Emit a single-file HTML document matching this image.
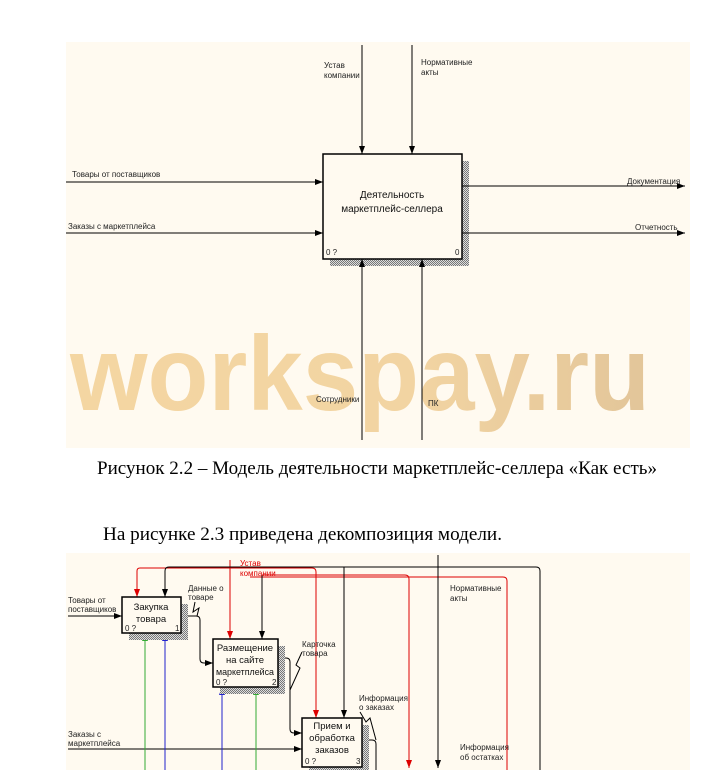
<!DOCTYPE html>
<html><head><meta charset="utf-8"><style>
html,body{margin:0;padding:0;background:#fff;width:714px;height:770px;overflow:hidden}
svg{display:block}
.s{font-family:"Liberation Sans",sans-serif;font-size:8px;fill:#222}
.b{font-family:"Liberation Sans",sans-serif;font-size:10px;fill:#111}
.c{font-family:"Liberation Sans",sans-serif;font-size:9.5px;fill:#111}
.t{font-family:"Liberation Serif",serif;font-size:19px;fill:#000}
</style></head><body>
<svg width="714" height="770" viewBox="0 0 714 770" xmlns="http://www.w3.org/2000/svg">
<defs>
<pattern id="h" width="2" height="2" patternUnits="userSpaceOnUse"><rect width="2" height="2" fill="#ddd"/><rect width="1" height="1" fill="#777"/><rect x="1" y="1" width="1" height="1" fill="#777"/></pattern>
<marker id="a" markerWidth="8" markerHeight="6" refX="8" refY="3" orient="auto" markerUnits="userSpaceOnUse"><path d="M0,0L8,3L0,6z" fill="#000"/></marker>
<marker id="ar" markerWidth="8" markerHeight="6" refX="8" refY="3" orient="auto" markerUnits="userSpaceOnUse"><path d="M0,0L8,3L0,6z" fill="#d00"/></marker>
<marker id="ag" markerWidth="8" markerHeight="6" refX="8" refY="3" orient="auto" markerUnits="userSpaceOnUse"><path d="M0,0L8,3L0,6z" fill="#3a3"/></marker>
<marker id="ab" markerWidth="8" markerHeight="6" refX="8" refY="3" orient="auto" markerUnits="userSpaceOnUse"><path d="M0,0L8,3L0,6z" fill="#22c"/></marker>
<linearGradient id="wm" x1="0" y1="0" x2="1" y2="0"><stop offset="0" stop-color="#f3d39a"/><stop offset="0.6" stop-color="#f1d09a"/><stop offset="1" stop-color="#e0c090"/></linearGradient>
</defs>
<rect x="66" y="42" width="624" height="406" fill="#fffaf0"/>
<text x="70" y="410" font-family="Liberation Sans,sans-serif" font-weight="bold" font-size="106" fill="url(#wm)" opacity="0.9" textLength="580" lengthAdjust="spacingAndGlyphs">workspay.ru</text>
<rect x="330" y="161" width="139" height="105" fill="url(#h)"/>
<rect x="323" y="154" width="139" height="105" fill="#fffaf0" stroke="#000" stroke-width="1.5"/>
<text class="b" x="392" y="198" text-anchor="middle">Деятельность</text>
<text class="b" x="392" y="212" text-anchor="middle">маркетплейс-селлера</text>
<text class="s" x="326" y="255">0 ?</text><text class="s" x="455" y="255">0</text>
<g stroke="#000" stroke-width="1" fill="none">
<line x1="362" y1="45" x2="362" y2="154" marker-end="url(#a)"/>
<line x1="412" y1="45" x2="412" y2="154" marker-end="url(#a)"/>
<line x1="66" y1="182" x2="323" y2="182" marker-end="url(#a)"/>
<line x1="66" y1="233" x2="323" y2="233" marker-end="url(#a)"/>
<line x1="462" y1="186" x2="685" y2="186" marker-end="url(#a)"/>
<line x1="462" y1="233" x2="685" y2="233" marker-end="url(#a)"/>
<line x1="362" y1="440" x2="362" y2="259" marker-end="url(#a)"/>
<line x1="422" y1="440" x2="422" y2="259" marker-end="url(#a)"/>
</g>
<text class="s" x="324" y="68">Устав</text><text class="s" x="324" y="78">компании</text>
<text class="s" x="421" y="65">Нормативные</text><text class="s" x="421" y="75">акты</text>
<text class="s" x="72" y="177">Товары от поставщиков</text>
<text class="s" x="68" y="229">Заказы с маркетплейса</text>
<text class="s" x="627" y="184">Документация</text>
<text class="s" x="635" y="230">Отчетность</text>
<text class="s" x="316" y="402">Сотрудники</text>
<text class="s" x="428" y="406">ПК</text>
<text class="t" x="97" y="474" textLength="560" lengthAdjust="spacingAndGlyphs">Рисунок 2.2 – Модель деятельности маркетплейс-селлера «Как есть»</text>
<text class="t" x="103" y="540" textLength="399" lengthAdjust="spacingAndGlyphs">На рисунке 2.3 приведена декомпозиция модели.</text>
<rect x="66" y="553" width="624" height="217" fill="#fffaf0"/>
<g fill="none" stroke-width="1">
<path d="M137,597V571q0,-3 3,-3H312q4,0 4,4V718" stroke="#d00"/>
<line x1="137" y1="590" x2="137" y2="597" stroke="#d00" marker-end="url(#ar)"/>
<line x1="316" y1="710" x2="316" y2="718" stroke="#d00" marker-end="url(#ar)"/>
<path d="M250,577H503q4,0 4,4V770" stroke="#d00"/>
<path d="M230,560V639" stroke="#d00" marker-end="url(#ar)"/>
<path d="M262,575H405q4,0 4,4V768" stroke="#d00" marker-end="url(#ar)"/>
<path d="M165,597V571q0,-4 4,-4H536q4,0 4,4V770" stroke="#000"/>
<line x1="165" y1="590" x2="165" y2="597" stroke="#000" marker-end="url(#a)"/>
<path d="M262,575V639" stroke="#000" marker-end="url(#a)"/>
<path d="M344,567V718" stroke="#000" marker-end="url(#a)"/>
<path d="M438,555V768" stroke="#000" marker-end="url(#a)"/>
<path d="M68,616H122" stroke="#000" marker-end="url(#a)"/>
<path d="M181,616H196q4,0 4,4V659q0,4 4,4H213" stroke="#000" marker-end="url(#a)"/>
<path d="M278,658H286q4,0 4,4V729q0,4 4,4H302" stroke="#000" marker-end="url(#a)"/>
<path d="M68,749H302" stroke="#000" marker-end="url(#a)"/>
<path d="M362,740H372q4,0 4,4V770" stroke="#000"/>
<path d="M145,770V633" stroke="#3a3" marker-end="url(#ag)"/>
<path d="M256,770V687" stroke="#3a3" marker-end="url(#ag)"/>
<path d="M165,770V633" stroke="#22c" marker-end="url(#ab)"/>
<path d="M222,770V687" stroke="#22c" marker-end="url(#ab)"/>
<path d="M195,602L193,612L199,608L197,616" stroke="#000"/>
<path d="M302,652L296,665L300,668L290,690" stroke="#000"/>
<path d="M360,712L366,722L370,718L376,740" stroke="#000"/>
</g>
<rect x="129" y="604" width="59" height="36" fill="url(#h)"/>
<rect x="122" y="597" width="59" height="36" fill="#fffaf0" stroke="#000" stroke-width="1.5"/>
<text class="c" x="151" y="610" text-anchor="middle">Закупка</text><text class="c" x="151" y="622" text-anchor="middle">товара</text>
<text class="s" x="125" y="631">0 ?</text><text class="s" x="175" y="631">1</text>
<rect x="220" y="646" width="65" height="48" fill="url(#h)"/>
<rect x="213" y="639" width="65" height="48" fill="#fffaf0" stroke="#000" stroke-width="1.5"/>
<text class="c" x="245" y="651" text-anchor="middle">Размещение</text><text class="c" x="245" y="663" text-anchor="middle">на сайте</text><text class="c" x="245" y="675" text-anchor="middle" textLength="58" lengthAdjust="spacingAndGlyphs">маркетплейса</text>
<text class="s" x="216" y="685">0 ?</text><text class="s" x="272" y="685">2</text>
<rect x="309" y="725" width="60" height="49" fill="url(#h)"/>
<rect x="302" y="718" width="60" height="49" fill="#fffaf0" stroke="#000" stroke-width="1.5"/>
<text class="c" x="332" y="729" text-anchor="middle">Прием и</text><text class="c" x="332" y="741" text-anchor="middle">обработка</text><text class="c" x="332" y="753" text-anchor="middle">заказов</text>
<text class="s" x="305" y="764">0 ?</text><text class="s" x="356" y="764">3</text>
<text class="s" x="240" y="566" style="fill:#d00">Устав</text><text class="s" x="240" y="576" style="fill:#d00">компании</text>
<text class="s" x="68" y="603">Товары от</text><text class="s" x="68" y="612">поставщиков</text>
<text class="s" x="188" y="591">Данные о</text><text class="s" x="188" y="600">товаре</text>
<text class="s" x="302" y="647">Карточка</text><text class="s" x="302" y="656">товара</text>
<text class="s" x="359" y="701">Информация</text><text class="s" x="359" y="710">о заказах</text>
<text class="s" x="450" y="591">Нормативные</text><text class="s" x="450" y="601">акты</text>
<text class="s" x="460" y="750">Информация</text><text class="s" x="460" y="760">об остатках</text>
<text class="s" x="68" y="737">Заказы с</text><text class="s" x="68" y="746">маркетплейса</text>
</svg>
</body></html>
